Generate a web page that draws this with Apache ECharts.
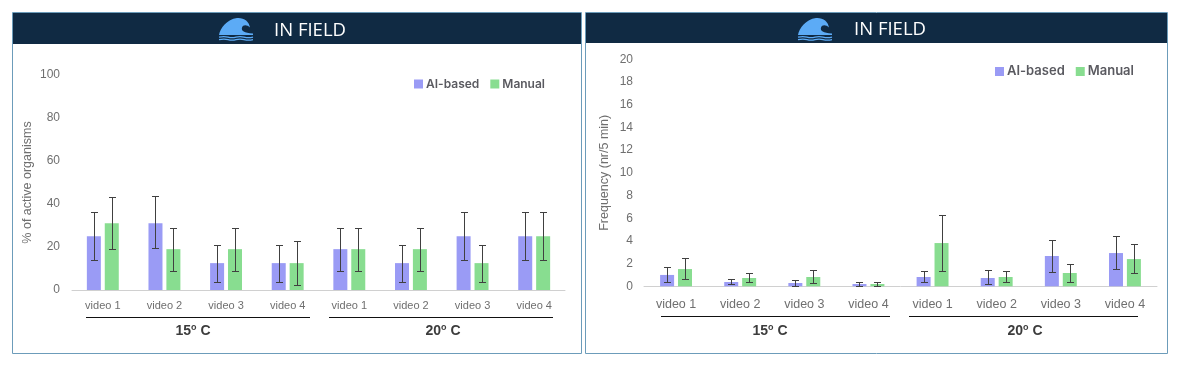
<!DOCTYPE html>
<html>
<head>
<meta charset="utf-8">
<style>html,body{margin:0;padding:0;background:#fff}#c{width:1181px;height:367px}</style>
<script src="https://cdn.jsdelivr.net/npm/echarts@6/dist/echarts.min.js"></script>
</head>
<body>
<div id="c"></div>
<script>
const categories = ['video 1','video 2','video 3','video 4','video 1 ','video 2 ','video 3 ','video 4 '];

const activeAI = [25,31,12.5,12.5,19,12.5,25,25];
const activeAIHigh = [36.1,43.6,20.8,20.8,28.7,20.8,36.1,36.1];
const activeAILow = [13.8,19.4,3.6,3.6,8.7,3.6,13.8,13.8];
const activeManual = [31,19,19,12.5,19,19,12.5,25];
const activeManualHigh = [43.1,28.7,28.7,22.6,28.7,28.7,20.8,36.1];
const activeManualLow = [18.9,8.7,8.7,2.2,8.7,8.7,3.6,13.8];

const freqAI = [1.0,0.38,0.29,0.2,0.82,0.73,2.67,2.93];
const freqAIHigh = [1.67,0.6,0.53,0.35,1.32,1.41,4.05,4.4];
const freqAILow = [0.35,0.23,0.03,0.06,0.35,0.18,1.23,1.5];
const freqManual = [1.52,0.73,0.82,0.2,3.81,0.82,1.17,2.4];
const freqManualHigh = [2.47,1.14,1.41,0.35,6.25,1.32,1.94,3.7];
const freqManualLow = [0.6,0.35,0.26,0.06,1.32,0.35,0.35,1.14];

const BLUE = '#9a9bf5', GREEN = '#88dd90', NAVY = '#102a43', EDGE = '#6c9cba', WAVE = '#5cabf6';
const TICK = '#6f6f6f', ERR = '#404040';
const SANS = '"Liberation Sans", Arial, sans-serif';

function barSeries(name, values, gridIndex) {
  return {type:'bar', name, data:values, xAxisIndex:gridIndex, yAxisIndex:gridIndex,
    barWidth:14, barGap:'28%', itemStyle:{color:name==='AI-based'?BLUE:GREEN}, z:2};
}
function errSeries(name, lows, highs, gridIndex, direction) {
  return {type:'custom', name, xAxisIndex:gridIndex, yAxisIndex:gridIndex, z:5, silent:true,
    data:lows.map((l,i)=>[i,l,highs[i]]),
    encode:{x:0,y:[1,2]},
    renderItem(params, api) {
      const x = api.coord([api.value(0),0])[0] + direction*9;
      const lo = api.coord([api.value(0),api.value(1)])[1];
      const hi = api.coord([api.value(0),api.value(2)])[1];
      const st = {stroke:ERR, lineWidth:1, fill:null};
      const sx = Math.round(x)+0.5, ly = Math.round(lo)+0.5, hy = Math.round(hi)+0.5;
      return {type:'group', children:[
        {type:'line', shape:{x1:sx,y1:hy,x2:sx,y2:ly}, style:st},
        {type:'line', shape:{x1:sx-3.5,y1:hy,x2:sx+3.5,y2:hy}, style:st},
        {type:'line', shape:{x1:sx-3.5,y1:ly,x2:sx+3.5,y2:ly}, style:st}
      ]};
    }};
}
function xAx(gridIndex, size, margin) {
  return {type:'category', gridIndex, data:categories,
    axisLine:{lineStyle:{color:'#d0d0d0',width:1}}, axisTick:{show:false},
    axisLabel:{color:TICK, fontFamily:SANS, fontSize:size, margin, interval:0,
      formatter:v=>v.trim()}};
}
function yAx(gridIndex, max, interval, name, nameGap, margin, size) {
  return {type:'value', gridIndex, min:0, max, interval, name, nameLocation:'middle', nameGap, nameRotate:90,
    nameTextStyle:{color:TICK, fontFamily:SANS, fontSize:size},
    splitLine:{show:false}, axisLine:{show:false}, axisTick:{show:false},
    axisLabel:{color:TICK, fontFamily:SANS, fontSize:12, margin, padding:[4,0,0,0]}};
}
function legendAt(left, top, gap, size) {
  return {left, top, padding:0, itemWidth:9, itemHeight:9, itemGap:gap, icon:'rect', data:['AI-based','Manual'], selectedMode:false,
    textStyle:{color:'#5a5a60', fontFamily:'Inter, sans-serif', fontWeight:600, fontSize:size, padding:[0,0,0,-2]}};
}
function panel(x, y, w, h, headH) {
  return [
    {type:'rect', shape:{x:x+0.5,y:y+0.5,width:w,height:h}, style:{fill:'#fff',stroke:EDGE,lineWidth:1}, z:-3},
    {type:'rect', shape:{x:x+1,y:y+1,width:w-1,height:headH}, style:{fill:NAVY}, z:-2}
  ];
}
const waveOrigins = [[219,18],[798,18]];
const wavePath = 'M0 16 C1 10 8 1 18 0 C25 -0.5 30 3 31 9 C28 6 24 6 23 9 C22 12 25 14.5 34 14.5 L34 16 Z';
const ripplePath = 'M0 1 C4 0 6 0 9 1 C12 2 14 2 17 1 C20 0 22 0 25 1 C28 2 31 2 34 1';
const waveSeries = {
  type:'custom', coordinateSystem:'none', silent:true, z:3, data:waveOrigins,
  renderItem(params, api) {
    const x = api.value(0), y = api.value(1);
    return {type:'group', children:[
      {type:'path', shape:{layout:'cover', x, y, width:34, height:17, pathData:wavePath}, style:{fill:WAVE}},
      {type:'path', shape:{layout:'cover', x, y:y+18.5, width:34, height:1.2, pathData:ripplePath}, style:{fill:null,stroke:WAVE,lineWidth:1.2}},
      {type:'path', shape:{layout:'cover', x, y:y+21, width:34, height:1.2, pathData:ripplePath}, style:{fill:null,stroke:WAVE,lineWidth:1.2}}
    ]};
  }
};
function headText(x, y) {
  return {type:'text', x, y, style:{text:'IN FIELD', fill:'#fff', font:'18.5px "Open Sans", sans-serif', verticalAlign:'middle'}, z:1};
}
function rule(x1, x2, y) {
  return {type:'line', shape:{x1,y1:y+0.5,x2,y2:y+0.5}, style:{stroke:'#111',lineWidth:1}, z:1};
}
function groupLabel(cx, y, deg) {
  return {type:'text', x:cx, y, z:1, style:{
    text:`{b|${deg}}{s|o}{b| C}`, align:'center', verticalAlign:'middle',
    rich:{b:{font:'bold 14px "Liberation Sans"',fill:'#3c3c3c',lineHeight:16},
          s:{font:'bold 9px "Liberation Sans"',fill:'#3c3c3c',lineHeight:16,verticalAlign:'top'}}}};
}

const option = {
  animation:false,
  backgroundColor:'#fff',
  grid:[
    {left:72, width:493, top:75, height:215},
    {left:644, width:513, top:59.3, height:227}
  ],
  xAxis:[xAx(0,11,10), xAx(1,12.5,12)],
  yAxis:[
    yAx(0,100,20,'% of active organisms',38,12,12.5),
    yAx(1,20,2,'Frequency (nr/5 min)',33,11,12.5)
  ],
  legend:[legendAt(414,78,11,12), legendAt(995,65,11,13)],
  series:[
    barSeries('AI-based',activeAI,0),
    barSeries('Manual',activeManual,0),
    errSeries('AI-based error',activeAILow,activeAIHigh,0,-1),
    errSeries('Manual error',activeManualLow,activeManualHigh,0,1),
    barSeries('AI-based',freqAI,1),
    barSeries('Manual',freqManual,1),
    errSeries('AI-based error',freqAILow,freqAIHigh,1,-1),
    errSeries('Manual error',freqManualLow,freqManualHigh,1,1),
    waveSeries
  ],
  graphic:{elements:[
    ...panel(12,12,569,341,31),
    ...panel(585,12,582,341,30),
    headText(274,31), headText(854,30),
    rule(86,310,317), rule(329,553,317),
    rule(661,890,316), rule(909,1138,316),
    groupLabel(193,331,'15'), groupLabel(443,331,'20'),
    groupLabel(770,331,'15'), groupLabel(1025,331,'20')
  ]}
};
echarts.init(document.getElementById('c'),null,{renderer:'canvas'}).setOption(option);
</script>
</body>
</html>
